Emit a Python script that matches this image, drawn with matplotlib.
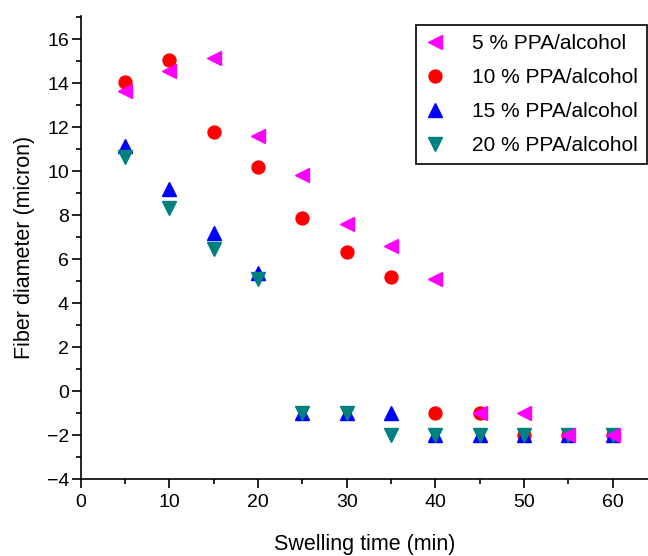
import matplotlib
matplotlib.use("Agg")
import matplotlib.pyplot as plt
from matplotlib.ticker import MultipleLocator

plt.rcParams['font.family'] = ['Liberation Sans', 'DejaVu Sans']

time = [5, 10, 15, 20, 25, 30, 35, 40, 45, 50, 55, 60]
d5 = [13.65, 14.55, 15.15, 11.6, 9.8, 7.6, 6.6, 5.1, -1, -1, -2, -2]
d10 = [14.05, 15.07, 11.77, 10.2, 7.88, 6.3, 5.2, -1, -1, -2, -2, -2]
d15 = [11.15, 9.2, 7.2, 5.35, -1, -1, -1, -2, -2, -2, -2, -2]
d20 = [10.65, 8.32, 6.45, 5.08, -1, -1, -2, -2, -2, -2, -2, -2]
labels = ["5 % PPA/alcohol", "10 % PPA/alcohol", "15 % PPA/alcohol", "20 % PPA/alcohol"]

W, H = 648, 556
fig = plt.figure(figsize=(W / 100, H / 100), dpi=100)
ax = fig.add_axes([80.7 / W, (H - 479) / H, 1 - 80.7 / W, (479 - 16) / H])

ax.plot(time, d5, linestyle='none', marker='<', color='#FF00FF', ms=9.5, label=labels[0], zorder=6)
ax.plot(time, d10, linestyle='none', marker='o', color='#FF0000', ms=9.3, label=labels[1], zorder=3)
ax.plot(time, d15, linestyle='none', marker='^', color='#0000FF', ms=9.5, label=labels[2], zorder=4)
ax.plot(time, d20, linestyle='none', marker='v', color='#008080', ms=9.5, label=labels[3], zorder=5)

ax.set_xlim(0, 63.98)
ax.set_ylim(-4, 17.05)
ax.xaxis.set_major_locator(MultipleLocator(10))
ax.xaxis.set_minor_locator(MultipleLocator(5))
ax.yaxis.set_major_locator(MultipleLocator(2))
ax.yaxis.set_minor_locator(MultipleLocator(1))

for s in ['top', 'right']:
    ax.spines[s].set_visible(False)
for s in ['left', 'bottom']:
    ax.spines[s].set_linewidth(1.2)

ax.tick_params(axis='y', which='major', direction='out', length=6.5, width=1.2, labelsize=14, pad=2)
ax.tick_params(axis='y', which='minor', direction='out', length=3.5, width=1.2)
ax.tick_params(axis='x', which='major', direction='out', length=6.5, width=1.2, labelsize=14, pad=4)
ax.tick_params(axis='x', which='minor', direction='out', length=3.5, width=1.2)

ax.set_xlabel("Swelling time (min)", fontsize=15.5, labelpad=17)
ax.set_ylabel("Fiber diameter (micron)", fontsize=15.5, labelpad=8)

leg = ax.legend(loc='upper right', fontsize=15, frameon=True,
                fancybox=False, edgecolor='black', framealpha=1, handletextpad=1.25,
                borderpad=0.45, labelspacing=0.72, handlelength=1.0, borderaxespad=0)
leg.get_frame().set_linewidth(1.2)
leg.set_bbox_to_anchor((647 / W, 1 - 24.5 / H), transform=fig.transFigure)

fig.savefig("out.png", dpi=100)
